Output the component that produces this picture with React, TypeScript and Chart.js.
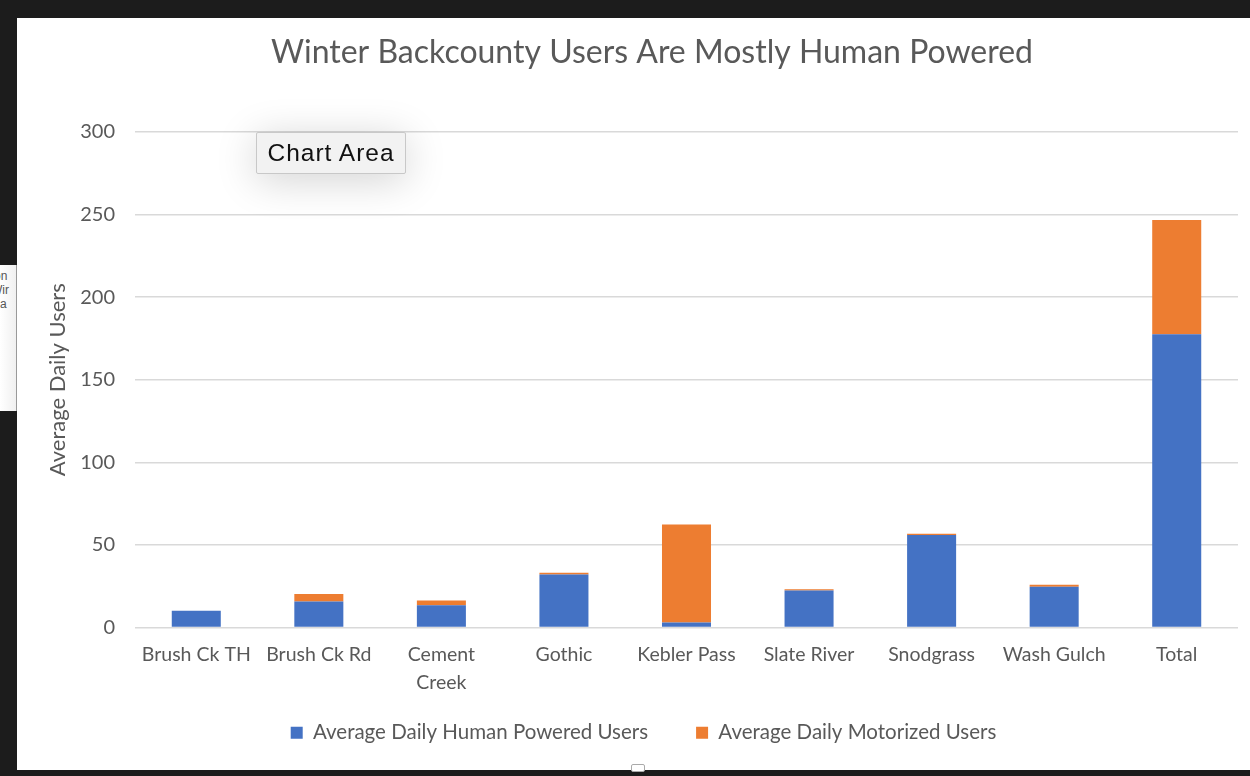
import React, { useEffect, useRef } from "react";
import { Chart, registerables } from "chart.js";

Chart.register(...registerables);

const categories: (string | string[])[] = [
  "Brush Ck TH",
  "Brush Ck Rd",
  ["Cement", "Creek"],
  "Gothic",
  "Kebler Pass",
  "Slate River",
  "Snodgrass",
  "Wash Gulch",
  "Total",
];
const humanPowered = [10.2, 15.8, 13.4, 32.1, 3.0, 22.4, 56.0, 24.6, 177.6];
const motorized = [0, 4.5, 3.0, 1.0, 59.4, 0.8, 0.8, 1.3, 69.1];
const seriesNames = ["Average Daily Human Powered Users", "Average Daily Motorized Users"];
const chartTitle = "Winter Backcounty Users Are Mostly Human Powered";
const yAxisTitle = "Average Daily Users";

const FONT = "Lato, 'Open Sans', sans-serif";
const GRAY = "#595959";

const adjustPlugin = {
  id: "adjustLayout",
  afterLayout(chart: any) {
    const x = chart.scales.x;
    if (x) x.bottom = chart.height;
    if (chart.titleBlock) {
      chart.titleBlock.left += 24.5;
      chart.titleBlock.right += 24.5;
    }
    if (chart.legend) {
      chart.legend.left += 16;
      chart.legend.right += 16;
    }
  },
};

export default function App() {
  const canvasRef = useRef<HTMLCanvasElement | null>(null);

  useEffect(() => {
    document.body.style.margin = "0";
    const ctx = canvasRef.current;
    if (!ctx) return;
    const chart = new Chart(ctx, {
      type: "bar",
      data: {
        labels: categories,
        datasets: [
          {
            label: seriesNames[0],
            data: humanPowered,
            backgroundColor: "#4472C4",
            barPercentage: 0.4,
            categoryPercentage: 1,
          },
          {
            label: seriesNames[1],
            data: motorized,
            backgroundColor: "#ED7D31",
            barPercentage: 0.4,
            categoryPercentage: 1,
          },
        ],
      },
      plugins: [adjustPlugin],
      options: {
        animation: false,
        responsive: true,
        maintainAspectRatio: false,
        layout: { padding: { left: 0, right: 12, top: 0, bottom: 17 } },
        plugins: {
          tooltip: { enabled: false },
          title: {
            display: true,
            text: chartTitle,
            color: GRAY,
            font: { family: FONT, size: 32, weight: "normal" },
            padding: { top: 15, bottom: 60.6 },
          },
          legend: {
            position: "bottom",
            labels: {
              color: GRAY,
              font: { family: FONT, size: 20.5 },
              boxWidth: 12,
              boxHeight: 12,
              padding: 48,
            },
          },
        },
        scales: {
          x: {
            stacked: true,
            grid: { display: false },
            border: { display: false },
            ticks: {
              color: GRAY,
              font: { family: FONT, size: 19.5, lineHeight: 1.4 },
              padding: 6,
              maxRotation: 0,
              autoSkip: false,
            },
            afterFit: (scale: any) => {
              scale.height = 47;
            },
          },
          y: {
            stacked: true,
            min: 0,
            max: 300,
            ticks: {
              stepSize: 50,
              color: GRAY,
              font: { family: FONT, size: 20 },
              padding: 20,
            },
            grid: { color: "#D9D9D9", lineWidth: 1.5, drawTicks: false },
            border: { display: false },
            title: {
              display: true,
              text: yAxisTitle,
              color: GRAY,
              font: { family: FONT, size: 22, weight: "normal" },
              padding: { top: 27.8, bottom: 0 },
            },
            afterFit: (scale: any) => {
              scale.width = 118;
            },
          },
        },
      },
    });
    return () => chart.destroy();
  }, []);

  return (
    <div style={{ position: "fixed", left: 0, top: 0, width: 1250, height: 776, background: "#1c1c1c", overflow: "hidden" }}>
      <div style={{ position: "absolute", left: 17, top: 18, width: 1233, height: 752, background: "#ffffff" }}>
        <canvas ref={canvasRef} />
      </div>
      <div
        style={{
          position: "absolute",
          left: 256,
          top: 132,
          width: 150,
          height: 42,
          boxSizing: "border-box",
          background: "#f2f2f2",
          border: "1px solid #c8c8c8",
          borderRadius: 2,
          boxShadow: "0 6px 40px rgba(0,0,0,0.18)",
          fontFamily: "'Liberation Sans', Arial, sans-serif",
          fontSize: 24.5,
          letterSpacing: 1,
          color: "#111",
          display: "flex",
          alignItems: "center",
          justifyContent: "center",
        }}
      >
        Chart Area
      </div>
      <div
        style={{
          position: "absolute",
          left: 0,
          top: 265,
          width: 17,
          height: 146,
          background: "linear-gradient(to right, #ffffff, #f0f0f0)",
          borderRight: "1px solid #999",
          overflow: "hidden",
          fontFamily: "'Liberation Sans', Arial, sans-serif",
          fontSize: 12,
          color: "#555",
          lineHeight: "14px",
          paddingTop: 4,
          boxSizing: "border-box",
        }}
      >
        <div style={{ marginLeft: -6 }}>on</div>
        <div style={{ marginLeft: -9 }}>Wir</div>
        <div style={{ marginLeft: 0 }}>a</div>
      </div>
      <div
        style={{
          position: "absolute",
          left: 631,
          top: 764,
          width: 14,
          height: 8,
          background: "#ffffff",
          border: "1px solid #aaa",
          borderRadius: 2,
          boxSizing: "border-box",
        }}
      />
    </div>
  );
}
